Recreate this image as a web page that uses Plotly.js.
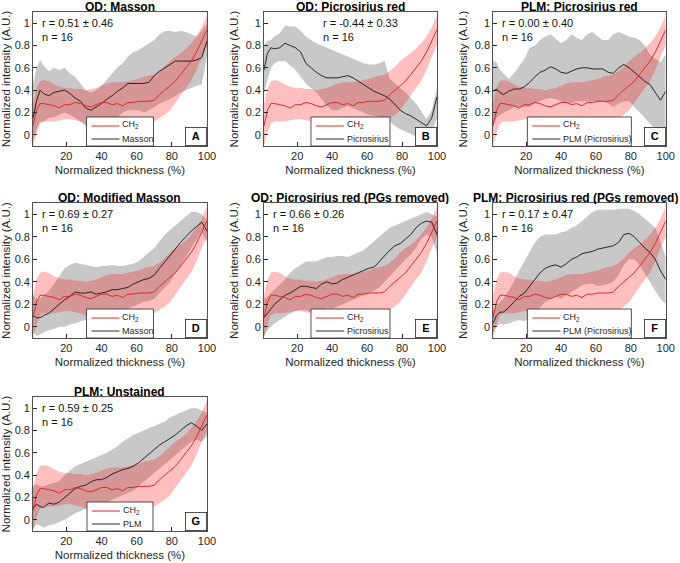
<!DOCTYPE html>
<html>
<head>
<meta charset="utf-8">
<script src="https://cdn.plot.ly/plotly-3.0.1.min.js"></script>
<style>html,body{margin:0;padding:0;background:#fff;}#chart{width:680px;height:563px;}</style>
</head>
<body>
<div id="chart"></div>
<script>
// ---------- DATA ----------
const X = [1,3,5,7,10,13,16,19,22,25,28,31,34,37,40,43,46,49,52,55,58,61,64,67,70,73,76,79,82,85,88,91,94,97,100];

// CH2 reference profile (same in every panel)
const CH2_MEAN = [0.08,0.22,0.28,0.28,0.27,0.26,0.24,0.27,0.27,0.29,0.28,0.26,0.25,0.27,0.29,0.29,0.27,0.28,0.26,0.29,0.29,0.30,0.30,0.30,0.31,0.36,0.40,0.44,0.48,0.54,0.60,0.66,0.74,0.84,0.94];
const CH2_HI   = [0.28,0.42,0.48,0.49,0.48,0.45,0.43,0.42,0.42,0.41,0.41,0.40,0.41,0.42,0.44,0.46,0.47,0.47,0.47,0.48,0.49,0.50,0.52,0.53,0.54,0.57,0.61,0.66,0.70,0.73,0.77,0.82,0.88,0.96,1.07];
const CH2_LO   = [-0.10,0.02,0.10,0.12,0.12,0.12,0.13,0.14,0.14,0.13,0.12,0.10,0.10,0.12,0.13,0.12,0.11,0.10,0.09,0.09,0.10,0.10,0.10,0.11,0.12,0.15,0.18,0.22,0.28,0.35,0.42,0.48,0.58,0.70,0.80];

// A: OD Masson
const A_MEAN = [0.15,0.30,0.40,0.37,0.35,0.38,0.39,0.40,0.37,0.33,0.30,0.24,0.22,0.25,0.28,0.32,0.35,0.39,0.42,0.46,0.46,0.46,0.46,0.47,0.53,0.57,0.60,0.63,0.66,0.66,0.66,0.66,0.67,0.69,0.84];
const A_HI   = [0.45,0.60,0.67,0.62,0.57,0.60,0.58,0.60,0.55,0.52,0.46,0.40,0.38,0.40,0.44,0.50,0.55,0.60,0.64,0.70,0.74,0.76,0.79,0.82,0.85,0.90,0.93,0.93,0.92,0.93,0.92,0.90,0.88,0.93,1.00];
const A_LO   = [-0.05,0.05,0.12,0.12,0.15,0.16,0.18,0.20,0.18,0.15,0.12,0.08,0.07,0.08,0.08,0.10,0.12,0.15,0.20,0.22,0.22,0.22,0.20,0.22,0.25,0.28,0.30,0.32,0.35,0.38,0.40,0.42,0.44,0.45,0.70];

// B: OD Picrosirius
const B_MEAN = [0.58,0.73,0.78,0.77,0.78,0.82,0.80,0.78,0.74,0.64,0.60,0.56,0.53,0.51,0.51,0.51,0.52,0.53,0.51,0.48,0.45,0.42,0.39,0.37,0.35,0.32,0.27,0.22,0.19,0.17,0.14,0.11,0.08,0.15,0.34];
const B_HI   = [0.80,0.84,0.85,0.88,0.91,0.98,0.97,0.97,0.93,0.88,0.85,0.82,0.80,0.78,0.76,0.74,0.72,0.70,0.68,0.66,0.64,0.63,0.63,0.64,0.66,0.50,0.46,0.42,0.38,0.33,0.28,0.21,0.14,0.22,0.42];
const B_LO   = [0.35,0.50,0.60,0.64,0.66,0.66,0.62,0.58,0.52,0.46,0.42,0.38,0.32,0.26,0.22,0.22,0.24,0.26,0.24,0.22,0.20,0.18,0.17,0.16,0.15,0.12,0.08,0.05,0.03,0.01,-0.02,-0.03,-0.02,0.02,0.15];

// C: PLM Picrosirius
const C_MEAN = [0.39,0.41,0.38,0.36,0.39,0.41,0.41,0.43,0.47,0.52,0.56,0.58,0.61,0.59,0.56,0.55,0.57,0.59,0.60,0.60,0.59,0.59,0.59,0.56,0.55,0.60,0.63,0.60,0.56,0.52,0.48,0.45,0.38,0.31,0.39];
const C_HI   = [0.67,0.65,0.58,0.55,0.50,0.55,0.62,0.68,0.78,0.80,0.85,0.88,0.90,0.86,0.82,0.85,0.90,0.87,0.85,0.90,0.92,0.88,0.85,0.85,0.90,0.92,0.90,0.88,0.87,0.85,0.80,0.72,0.68,0.65,0.72];
const C_LO   = [0.10,0.15,0.18,0.20,0.22,0.25,0.25,0.25,0.25,0.28,0.30,0.32,0.33,0.32,0.30,0.28,0.28,0.30,0.30,0.30,0.30,0.30,0.30,0.28,0.25,0.28,0.30,0.30,0.25,0.20,0.15,0.10,0.05,0.00,0.05];

// D: OD Modified Masson
const D_MEAN = [0.10,0.08,0.08,0.10,0.12,0.16,0.20,0.24,0.27,0.31,0.30,0.30,0.31,0.29,0.30,0.31,0.33,0.33,0.34,0.35,0.38,0.40,0.42,0.43,0.46,0.52,0.58,0.63,0.69,0.75,0.80,0.85,0.89,0.93,0.85];
const D_HI   = [0.28,0.25,0.25,0.28,0.32,0.38,0.45,0.52,0.55,0.57,0.56,0.55,0.54,0.53,0.54,0.54,0.55,0.54,0.54,0.55,0.56,0.58,0.62,0.66,0.70,0.76,0.82,0.86,0.90,0.94,0.98,1.02,1.02,1.00,0.95];
const D_LO   = [-0.05,-0.08,-0.07,-0.05,-0.03,-0.02,0.00,0.00,0.02,0.03,0.05,0.06,0.07,0.07,0.08,0.10,0.12,0.13,0.14,0.16,0.18,0.20,0.22,0.23,0.25,0.30,0.35,0.40,0.48,0.55,0.62,0.70,0.78,0.85,0.75];

// E: OD Picrosirius (PGs removed)
const E_MEAN = [0.08,0.12,0.16,0.20,0.24,0.28,0.30,0.33,0.36,0.36,0.35,0.34,0.38,0.40,0.38,0.39,0.42,0.44,0.46,0.48,0.50,0.52,0.53,0.58,0.63,0.68,0.72,0.74,0.78,0.82,0.88,0.92,0.94,0.93,0.82];
const E_HI   = [0.25,0.27,0.30,0.33,0.38,0.42,0.48,0.52,0.55,0.58,0.58,0.58,0.60,0.62,0.62,0.63,0.63,0.62,0.64,0.66,0.68,0.72,0.76,0.80,0.84,0.88,0.90,0.92,0.94,0.96,0.98,1.00,1.02,1.00,0.98];
const E_LO   = [-0.08,-0.03,0.00,0.03,0.06,0.09,0.12,0.14,0.15,0.15,0.13,0.12,0.15,0.17,0.16,0.18,0.20,0.22,0.24,0.26,0.28,0.30,0.32,0.35,0.40,0.45,0.50,0.55,0.60,0.64,0.70,0.78,0.82,0.80,0.65];

// F: PLM Picrosirius (PGs removed)
const F_MEAN = [0.03,0.10,0.13,0.13,0.17,0.22,0.27,0.30,0.36,0.42,0.48,0.52,0.54,0.55,0.53,0.56,0.60,0.62,0.65,0.66,0.67,0.69,0.70,0.71,0.72,0.75,0.82,0.83,0.80,0.75,0.70,0.66,0.60,0.50,0.42];
const F_HI   = [0.15,0.18,0.22,0.25,0.32,0.40,0.50,0.58,0.66,0.75,0.80,0.82,0.82,0.82,0.84,0.85,0.88,0.90,0.94,0.98,1.02,1.04,1.04,1.04,1.04,1.05,1.05,1.05,1.03,1.00,0.96,0.92,0.88,0.76,0.62];
const F_LO   = [-0.05,0.00,0.03,0.02,0.03,0.05,0.06,0.05,0.08,0.12,0.17,0.22,0.25,0.27,0.25,0.28,0.31,0.34,0.37,0.38,0.38,0.36,0.37,0.38,0.40,0.46,0.55,0.60,0.60,0.55,0.48,0.40,0.32,0.25,0.20];

// G: PLM Unstained
const G_MEAN = [0.10,0.14,0.12,0.11,0.15,0.14,0.16,0.20,0.24,0.28,0.30,0.31,0.34,0.36,0.36,0.38,0.41,0.43,0.45,0.46,0.48,0.51,0.55,0.59,0.63,0.67,0.70,0.73,0.76,0.80,0.84,0.87,0.84,0.80,0.86];
const G_HI   = [0.30,0.32,0.30,0.30,0.32,0.33,0.35,0.40,0.44,0.48,0.50,0.52,0.54,0.56,0.58,0.60,0.63,0.66,0.70,0.73,0.76,0.78,0.80,0.82,0.84,0.86,0.88,0.92,0.94,0.96,0.98,1.00,1.00,0.98,0.96];
const G_LO   = [-0.08,-0.04,-0.05,-0.07,-0.05,-0.04,-0.02,0.00,0.03,0.06,0.08,0.10,0.12,0.13,0.14,0.16,0.18,0.20,0.22,0.24,0.26,0.30,0.34,0.38,0.42,0.46,0.50,0.54,0.58,0.62,0.66,0.70,0.72,0.70,0.75];

const PANEL_TITLES = ["OD: Masson","OD: Picrosirius red","PLM: Picrosirius red","OD: Modified Masson","OD: Picrosirius red (PGs removed)","PLM: Picrosirius red (PGs removed)","PLM: Unstained"];
const PANEL_LETTERS = ["A","B","C","D","E","F","G"];
const R_TEXT = ["r = 0.51 ± 0.46","r = -0.44 ± 0.33","r = 0.00 ± 0.40","r = 0.69 ± 0.27","r = 0.66 ± 0.26","r = 0.17 ± 0.47","r = 0.59 ± 0.25"];
const N_TEXT = ["n = 16","n = 16","n = 16","n = 16","n = 16","n = 16","n = 16"];
const STAIN_LABELS = ["Masson","Picrosirius","PLM (Picrosirius)","Masson","Picrosirius","PLM (Picrosirius)","PLM"];
const REF_LABEL = "CH<sub>2</sub>";
const X_TICKS = [20,40,60,80,100];
const Y_TICKS = [0,0.2,0.4,0.6,0.8,1];

const STAIN_MEAN = [A_MEAN,B_MEAN,C_MEAN,D_MEAN,E_MEAN,F_MEAN,G_MEAN];
const STAIN_HI = [A_HI,B_HI,C_HI,D_HI,E_HI,F_HI,G_HI];
const STAIN_LO = [A_LO,B_LO,C_LO,D_LO,E_LO,F_LO,G_LO];

// ---------- LAYOUT / STYLE ----------
const FONT = "Liberation Sans, Arial, Helvetica, sans-serif";
const COLS = [[0.0485,0.3044],[0.3882,0.6426],[0.725,0.979]];
const ROWS = [[0.7407,0.9787],[0.3996,0.6394],[0.0568,0.2948]];
const POS = [[0,0],[0,1],[0,2],[1,0],[1,1],[1,2],[2,0]];
const STAT_X = [0.04,0.33,0.04,0.04,0.04,0.04,0.04];
const TITLE_XSHIFT = [0,0,0,0,0,-4,0];
const LEGEND_W = [67,79,104,67,79,104,66];   // legend box widths (px)
const LEGEND_H = 29;

const GRAY_FILL = "rgb(200,200,200)";
const PINK_FILL = "rgba(255,0,0,0.25)";
const RED_LINE = "rgb(225,40,40)";
const BLACK_LINE = "rgb(20,20,20)";
const AXC = "#262626";

const traces = [];
const layout = {
  width: 680, height: 563,
  margin: {l:0,r:0,t:0,b:0},
  paper_bgcolor: "#fff", plot_bgcolor: "#fff",
  font: {family: FONT, color: AXC, size: 11},
  showlegend: false,
  annotations: [],
  shapes: []
};
const closed = (x, hi, lo) => ({x: x.concat(x.slice().reverse()), y: hi.concat(lo.slice().reverse())});

POS.forEach((p, i) => {
  const k = i === 0 ? "" : String(i+1);
  const xa = "x"+k, ya = "y"+k;
  const col = COLS[p[1]], row = ROWS[p[0]];
  const g = closed(X, STAIN_HI[i], STAIN_LO[i]);
  const c = closed(X, CH2_HI, CH2_LO);
  traces.push({x:g.x, y:g.y, xaxis:xa, yaxis:ya, type:"scatter", mode:"lines", fill:"toself",
    fillcolor:GRAY_FILL, line:{width:0}, showlegend:false, hoverinfo:"skip", name:STAIN_LABELS[i]+" ± SD"});
  traces.push({x:c.x, y:c.y, xaxis:xa, yaxis:ya, type:"scatter", mode:"lines", fill:"toself",
    fillcolor:PINK_FILL, line:{width:0}, showlegend:false, hoverinfo:"skip", name:"CH2 ± SD"});
  traces.push({x:X, y:STAIN_MEAN[i], xaxis:xa, yaxis:ya, type:"scatter", mode:"lines",
    line:{color:BLACK_LINE, width:0.9}, name:STAIN_LABELS[i], showlegend:false});
  traces.push({x:X, y:CH2_MEAN, xaxis:xa, yaxis:ya, type:"scatter", mode:"lines",
    line:{color:RED_LINE, width:1}, name:"CH2", showlegend:false});

  layout["xaxis"+k] = {domain:col, anchor:ya, range:[1,100], tickvals:X_TICKS, ticks:"inside", ticklen:4,
    tickcolor:AXC, showline:true, linecolor:AXC, linewidth:0.8, mirror:true, showgrid:false, zeroline:false,
    tickfont:{size:11,color:AXC}, title:{text:"Normalized thickness (%)", font:{size:11.5,color:AXC}, standoff:4}};
  layout["yaxis"+k] = {domain:row, anchor:xa, range:[-0.1,1.1], tickvals:Y_TICKS, ticktext:["0","0.2","0.4","0.6","0.8","1"],
    ticks:"inside", ticklen:4, tickcolor:AXC, showline:true, linecolor:AXC, linewidth:0.8, mirror:true,
    showgrid:false, zeroline:false, tickfont:{size:11,color:AXC},
    title:{text:"Normalized intensity (A.U.)", font:{size:11.5,color:AXC}, standoff:4}};

  // legend (drawn as a boxed key at the bottom-centre of the axes, like MATLAB 'south')
  const w = LEGEND_W[i], xr = xa+" domain", yr = ya+" domain";
  layout.shapes.push({type:"rect", xref:xr, yref:yr, xsizemode:"pixel", ysizemode:"pixel", xanchor:0.5, yanchor:0,
    x0:-w/2, x1:w/2, y0:0, y1:LEGEND_H, fillcolor:"#fff", line:{color:AXC, width:0.8}, layer:"above"});
  layout.shapes.push({type:"line", xref:xr, yref:yr, xsizemode:"pixel", ysizemode:"pixel", xanchor:0.5, yanchor:0,
    x0:-w/2+5, x1:-w/2+33, y0:20, y1:20, line:{color:RED_LINE, width:1}, layer:"above"});
  layout.shapes.push({type:"line", xref:xr, yref:yr, xsizemode:"pixel", ysizemode:"pixel", xanchor:0.5, yanchor:0,
    x0:-w/2+5, x1:-w/2+33, y0:7, y1:7, line:{color:BLACK_LINE, width:0.9}, layer:"above"});
  layout.annotations.push({xref:xr, yref:yr, x:0.5, y:0, xshift:-w/2+34, yshift:21, xanchor:"left", yanchor:"middle",
    text:REF_LABEL, showarrow:false, font:{size:9,color:AXC}});
  layout.annotations.push({xref:xr, yref:yr, x:0.5, y:0, xshift:-w/2+34, yshift:7, xanchor:"left", yanchor:"middle",
    text:STAIN_LABELS[i], showarrow:false, font:{size:9,color:AXC}});

  layout.annotations.push({xref:xr, yref:yr, x:0.5, y:1, xanchor:"center", yanchor:"bottom", valign:"middle",
    height:12, borderpad:0, text:"<b>"+PANEL_TITLES[i]+"</b>", showarrow:false, font:{size:12,color:"#000"},
    yshift:-2, xshift:TITLE_XSHIFT[i]});
  layout.annotations.push({xref:xr, yref:yr, x:STAT_X[i], y:0.975, xanchor:"left", yanchor:"top",
    align:"left", text:R_TEXT[i]+"<br>"+N_TEXT[i], showarrow:false, font:{size:11,color:"#111"}});
  layout.annotations.push({xref:xr, yref:yr, x:1, y:0, xanchor:"right", yanchor:"bottom",
    text:"<b>"+PANEL_LETTERS[i]+"</b>", showarrow:false, bgcolor:"#fff", bordercolor:AXC, borderwidth:0.8,
    borderpad:2, width:16, height:13, font:{size:11,color:"#000"}});
});

Plotly.newPlot("chart", traces, layout, {staticPlot:true, displayModeBar:false});
</script>
</body>
</html>
